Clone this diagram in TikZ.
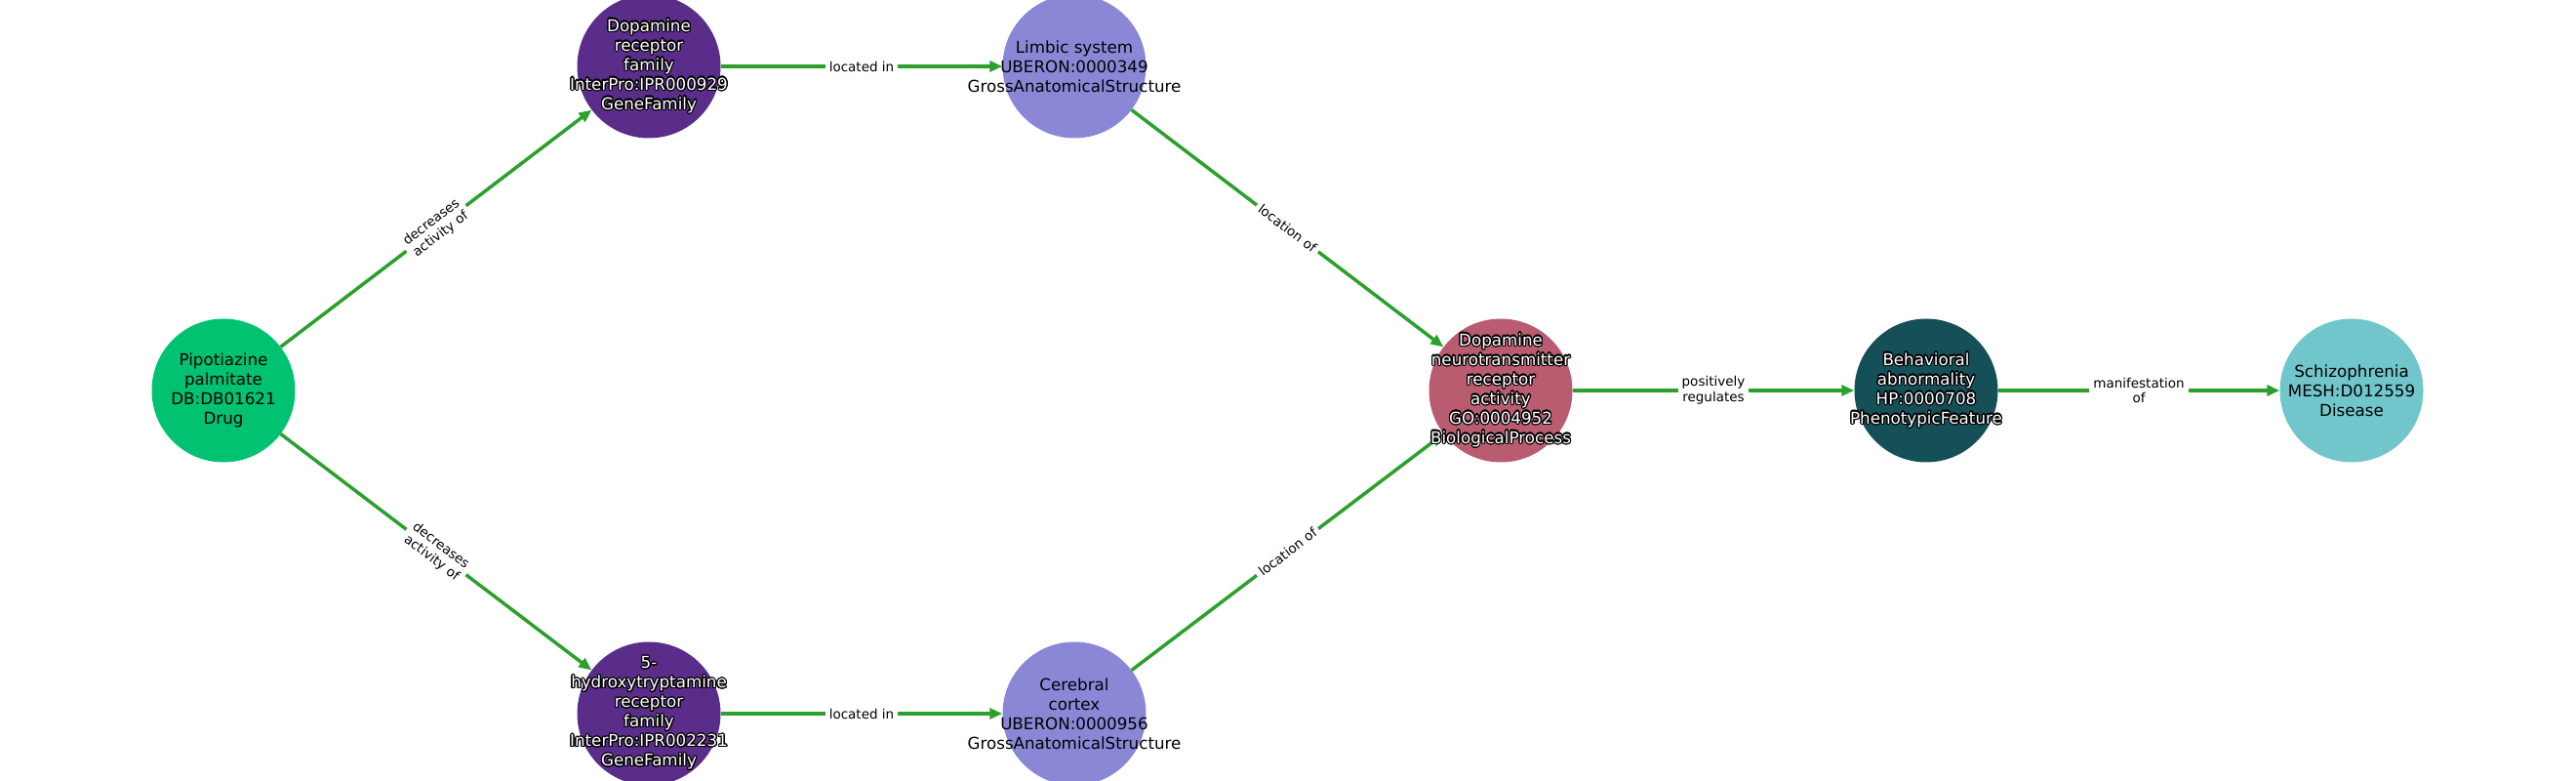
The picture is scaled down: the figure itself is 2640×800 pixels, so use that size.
\documentclass[tikz,border=0pt]{standalone}
\usepackage{fontspec}
\setmainfont{DejaVu Sans}
\usepackage{contour}
\contourlength{1.1pt}
\contournumber{24}
\usetikzlibrary{arrows.meta}
\definecolor{edgegreen}{HTML}{2CA02C}
\definecolor{cdrug}{HTML}{00C271}
\definecolor{cgene}{HTML}{5B2D8B}
\definecolor{canat}{HTML}{8A87D7}
\definecolor{cproc}{HTML}{BA5C70}
\definecolor{cpheno}{HTML}{154F58}
\definecolor{cdis}{HTML}{71C6CC}
\newcommand\wl[1]{\contour{black}{#1}}
\begin{document}
\begin{tikzpicture}[x=1pt,y=1pt,
  ent/.style={circle,minimum size=147pt,inner sep=0pt,draw=none},
  txt/.style={align=center,font=\fontsize{16.7}{20}\selectfont,inner sep=0pt},
  wtxt/.style={txt,text=white},
  rel/.style={draw=edgegreen,line width=3.5pt,-{Triangle[length=13pt,width=11pt]}},
  lab/.style={fill=white,text=black,font=\fontsize{13.5}{15.5}\selectfont,align=center,inner sep=4pt,midway,sloped}]
\useasboundingbox (0,0) rectangle (2640,800);
% circles
\node[ent,fill=cdrug]  (drug) at (229,400) {};
\node[ent,fill=cgene]  (drf)  at (665,732) {};
\node[ent,fill=canat]  (lim)  at (1101,732) {};
\node[ent,fill=cproc]  (dnt)  at (1538,400) {};
\node[ent,fill=cpheno] (beh)  at (1974,400) {};
\node[ent,fill=cdis]   (sch)  at (2410,400) {};
\node[ent,fill=cgene]  (htr)  at (665,69) {};
\node[ent,fill=canat]  (cc)   at (1101,69) {};
% edges
\draw[rel] (drug) -- node[lab]{decreases\\activity of} (drf);
\draw[rel] (drug) -- node[lab]{decreases\\activity of} (htr);
\draw[rel] (drf) -- node[lab]{located in} (lim);
\draw[rel] (htr) -- node[lab]{located in} (cc);
\draw[rel] (lim) -- node[lab]{location of} (dnt);
\draw[rel] (cc) -- node[lab]{location of} (dnt);
\draw[rel] (dnt) -- node[lab]{positively\\regulates} (beh);
\draw[rel] (beh) -- node[lab]{manifestation\\of} (sch);
% texts
\node[txt]  (tdrug) at (drug) {Pipotiazine\\palmitate\\DB:DB01621\\Drug};
\node[wtxt] (tdrf)  at (drf)  {\wl{Dopamine}\\\wl{receptor}\\\wl{family}\\\wl{InterPro:IPR000929}\\\wl{GeneFamily}};
\node[txt]  (tlim)  at (lim)  {Limbic system\\UBERON:0000349\\GrossAnatomicalStructure};
\node[wtxt] (tdnt)  at (dnt)  {\wl{Dopamine}\\\wl{neurotransmitter}\\\wl{receptor}\\\wl{activity}\\\wl{GO:0004952}\\\wl{BiologicalProcess}};
\node[wtxt] (tbeh)  at (beh)  {\wl{Behavioral}\\\wl{abnormality}\\\wl{HP:0000708}\\\wl{PhenotypicFeature}};
\node[txt]  (tsch)  at (sch)  {Schizophrenia\\MESH:D012559\\Disease};
\node[wtxt] (thtr)  at (htr)  {\wl{5-}\\\wl{hydroxytryptamine}\\\wl{receptor}\\\wl{family}\\\wl{InterPro:IPR002231}\\\wl{GeneFamily}};
\node[txt]  (tcc)   at (cc)   {Cerebral\\cortex\\UBERON:0000956\\GrossAnatomicalStructure};
\end{tikzpicture}
\end{document}
